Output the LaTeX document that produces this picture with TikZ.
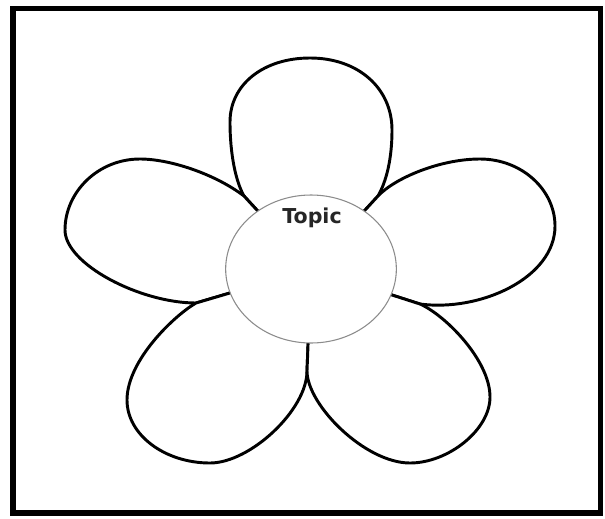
\documentclass[tikz,border=0pt]{standalone}
\usepackage{fontspec}
\newfontfamily\topicfont{DejaVu Sans}
\usepackage{tikz}
\usetikzlibrary{shapes.geometric}

\tikzset{
  petal/.style={draw=black, line width=2.2pt, fill=white, line join=round},
  hub/.style={ellipse, draw=black!45, line width=0.8pt, fill=white,
    minimum width=128pt, minimum height=111pt, inner sep=0pt},
  frame/.style={draw=black, line width=4.1pt, line join=miter}
}

\begin{document}
\begin{tikzpicture}[x=0.75pt,y=-0.75pt]
  \useasboundingbox (0,0) rectangle (605,518);
  \draw[frame] (13,8.5) rectangle (600.5,513);

  % centre and the points where two petals meet
  \coordinate (c) at (311,269);
  \coordinate (jtl) at (244,196);
  \coordinate (jtr) at (378,196);
  \coordinate (jl) at (196,303);
  \coordinate (jr) at (420,304);
  \coordinate (jb) at (307,371);

  % top petal
  \draw[petal] (c) -- (jtl) .. controls (236,182) and (230,155) .. (230,122)
    .. controls (230,84) and (264,58) .. (310,58)
    .. controls (358,58) and (392,88) .. (392,130)
    .. controls (392,160) and (386,182) .. (jtr) -- cycle;
  % upper left petal
  \draw[petal] (c) -- (jl) .. controls (140,303) and (65,264) .. (65,230)
    .. controls (65,192) and (98,159) .. (140,159)
    .. controls (170,159) and (215,174) .. (jtl) -- cycle;
  % upper right petal
  \draw[petal] (c) -- (jtr) .. controls (395,178) and (440,159) .. (480,159)
    .. controls (522,159) and (555,190) .. (555,226)
    .. controls (555,278) and (480,312) .. (jr) -- cycle;
  % lower left petal
  \draw[petal] (c) -- (jl) .. controls (175,315) and (127,360) .. (127,400)
    .. controls (127,435) and (165,463) .. (210,463)
    .. controls (250,463) and (307,410) .. (jb) -- cycle;
  % lower right petal
  \draw[petal] (c) -- (jb) .. controls (307,405) and (365,463) .. (410,463)
    .. controls (448,463) and (490,430) .. (490,397)
    .. controls (490,360) and (445,315) .. (jr) -- cycle;

  \node[hub] (centre) at (c) {};
  \node[anchor=base, inner sep=0pt, text=black!85,
    font=\topicfont\bfseries\fontsize{15.4}{18}\selectfont]
    (topic) at (312,223.3) {Topic};
\end{tikzpicture}
\end{document}
